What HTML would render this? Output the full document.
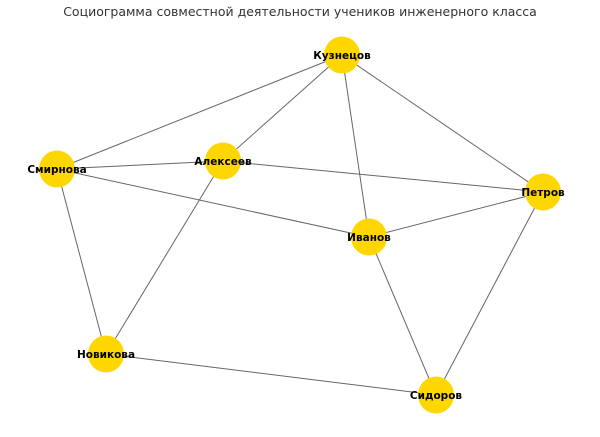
<!DOCTYPE html>
<html><head><meta charset="utf-8"><style>
html,body{margin:0;padding:0;background:#fff;width:600px;height:437px;overflow:hidden}
</style></head><body>
<svg width="600" height="437" viewBox="0 0 600 437" xmlns="http://www.w3.org/2000/svg">
<text x="300" y="16" text-anchor="middle" font-family="DejaVu Sans, sans-serif" font-size="12.5" fill="#333">Социограмма совместной деятельности учеников инженерного класса</text>
<g stroke="#666" stroke-width="1">
<line x1="342" y1="55" x2="57" y2="169"/>
<line x1="342" y1="55" x2="223" y2="161"/>
<line x1="342" y1="55" x2="369" y2="237"/>
<line x1="342" y1="55" x2="543" y2="192"/>
<line x1="57" y1="169" x2="223" y2="161"/>
<line x1="57" y1="169" x2="369" y2="237"/>
<line x1="57" y1="169" x2="106" y2="354"/>
<line x1="223" y1="161" x2="543" y2="192"/>
<line x1="223" y1="161" x2="106" y2="354"/>
<line x1="543" y1="192" x2="369" y2="237"/>
<line x1="543" y1="192" x2="436" y2="395"/>
<line x1="369" y1="237" x2="436" y2="395"/>
<line x1="106" y1="354" x2="436" y2="395"/>
</g>
<g fill="#FFD700">
<ellipse cx="342" cy="55" rx="18" ry="18.5"/>
<ellipse cx="57" cy="169" rx="18" ry="18.5"/>
<ellipse cx="223" cy="161" rx="18" ry="18.5"/>
<ellipse cx="543" cy="192" rx="18" ry="18.5"/>
<ellipse cx="369" cy="237" rx="18" ry="18.5"/>
<ellipse cx="106" cy="354" rx="18" ry="18.5"/>
<ellipse cx="436" cy="395" rx="18" ry="18.5"/>
</g>
<g font-family="DejaVu Sans, sans-serif" font-size="10.5" font-weight="bold" fill="#000" text-anchor="middle">
<text x="342" y="59">Кузнецов</text>
<text x="57" y="173">Смирнова</text>
<text x="223" y="165">Алексеев</text>
<text x="543" y="196">Петров</text>
<text x="369" y="241">Иванов</text>
<text x="106" y="358">Новикова</text>
<text x="436" y="399">Сидоров</text>
</g>
</svg>
</body></html>
